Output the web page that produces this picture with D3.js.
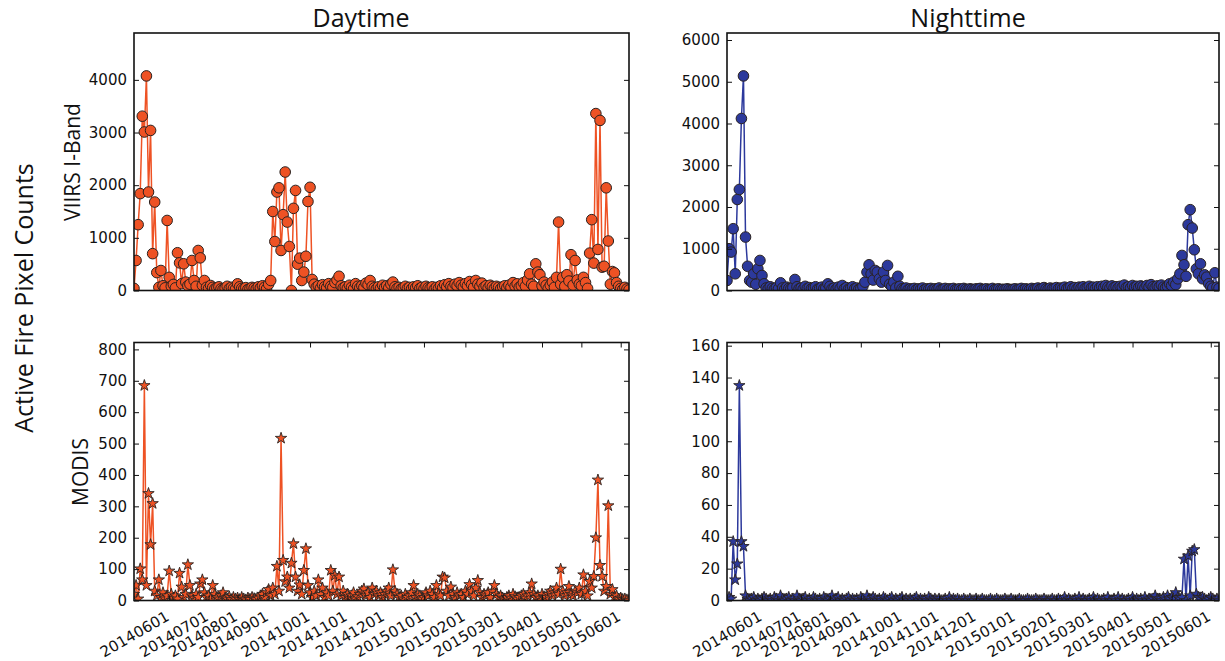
<!DOCTYPE html>
<html>
<head>
<meta charset="utf-8">
<script src="https://d3js.org/d3.v7.min.js"></script>
<style>
  body { margin: 0; background: #fff; }
  .tick text { font-family: "DejaVu Sans", sans-serif; font-size: 15px; fill: #111; }
  .lbl { font-family: "Open Sans", sans-serif; fill: #111; }
</style>
</head>
<body>
<div id="chart"></div>
<script>

// x axis is the sample index (one point per observation day)
const N = 240;
const tickIdx = [17, 36, 50, 65, 85, 103, 121, 140, 160, 178, 197, 216, 235];
const tickLabels = ["20140601", "20140701", "20140801", "20140901", "20141001", "20141101",
  "20141201", "20150101", "20150201", "20150301", "20150401", "20150501", "20150601"];

// VIIRS I-Band, daytime
const viirsDay = [
  40, 570, 1250, 1840, 3310, 3010, 4075, 1870, 3040, 700,
  1680, 340, 60, 380, 90, 50, 1330, 250, 80, 115,
  50, 717, 525, 130, 507, 160, 90, 120, 570, 190,
  80, 760, 620, 100, 190, 60, 40, 95, 60, 30,
  50, 70, 30, 20, 45, 80, 35, 60, 40, 25,
  127, 70, 40, 30, 55, 20, 35, 60, 45, 30,
  70, 50, 90, 60, 30, 120, 190, 1500, 930, 1870,
  1950, 760, 1440, 2250, 1300, 836, 0, 1560, 1900, 500,
  615, 190, 350, 650, 1690, 1960, 210, 120, 60, 90,
  40, 110, 70, 50, 130, 80, 60, 150, 200, 270,
  90, 50, 70, 40, 100, 60, 30, 130, 80, 50,
  90, 60, 140, 110, 190, 80, 50, 30, 70, 40,
  100, 60, 90, 50, 120, 160, 70, 40, 60, 30,
  50, 80, 40, 60, 30, 70, 50, 90, 40, 60,
  30, 80, 50, 40, 70, 20, 60, 40, 90, 50,
  110, 70, 130, 80, 60, 120, 90, 150, 100, 70,
  130, 90, 170, 110, 60, 190, 120, 80, 140, 60,
  90, 50, 100, 70, 40, 80, 60, 30, 70, 90,
  50, 100, 60, 150, 80, 127, 60, 90, 150, 80,
  200, 317, 120, 80, 507, 350, 300, 90, 160, 100,
  40, 100, 160, 60, 250, 1300, 120, 250, 80, 300,
  180, 680, 100, 570, 200, 120, 90, 250, 150, 40,
  710, 1345, 520, 3360, 780, 3230, 443, 460, 1950, 940,
  120, 360, 335, 150, 80, 40, 20, 60, 30, 10
];

// VIIRS I-Band, nighttime
const viirsNight = [
  240, 1000, 920, 1480, 400, 2180, 2420, 4120, 5140, 1280,
  580, 240, 200, 400, 150, 520, 720, 360, 160, 60,
  40, 90, 50, 30, 70, 40, 185, 60, 30, 80,
  50, 40, 70, 264, 90, 40, 60, 30, 100, 50,
  70, 40, 60, 90, 30, 50, 80, 40, 60, 160,
  100, 40, 60, 30, 80, 50, 120, 40, 70, 30,
  50, 90, 40, 60, 30, 50, 100, 200, 440, 616,
  400, 250, 480, 440, 280, 200, 440, 240, 600, 150,
  100, 200, 60, 340, 100, 40, 30, 60, 20, 40,
  30, 50, 20, 40, 30, 60, 20, 40, 30, 50,
  20, 40, 30, 60, 20, 30, 50, 20, 40, 30,
  50, 20, 30, 40, 20, 50, 30, 20, 40, 30,
  20, 40, 30, 50, 20, 30, 40, 20, 30, 50,
  20, 30, 40, 20, 30, 20, 40, 30, 20, 30,
  40, 20, 30, 50, 20, 40, 30, 20, 50, 30,
  40, 60, 30, 50, 70, 40, 30, 60, 40, 50,
  70, 40, 60, 50, 80, 40, 60, 90, 50, 70,
  40, 80, 60, 90, 50, 70, 100, 60, 80, 50,
  90, 60, 100, 70, 120, 80, 60, 110, 70, 90,
  60, 100, 80, 130, 70, 90, 60, 120, 80, 100,
  70, 110, 90, 60, 120, 80, 140, 90, 70, 110,
  90, 130, 80, 60, 100, 160, 120, 200, 140, 280,
  400, 840, 616, 340, 1576, 1936, 1496, 976, 520, 400,
  640, 280, 376, 320, 160, 100, 60, 424, 80, 50
];

// MODIS, daytime
const modisDay = [
  20, 48, 5, 101, 66, 685, 48, 341, 178, 309,
  30, 15, 66, 10, 25, 5, 15, 94, 20, 8,
  15, 5, 87, 43, 10, 20, 114, 48, 15, 8,
  20, 10, 53, 66, 25, 10, 15, 5, 48, 20,
  10, 5, 15, 25, 8, 5, 12, 3, 10, 5,
  8, 3, 10, 5, 2, 8, 4, 10, 6, 3,
  8, 15, 20, 10, 25, 35, 15, 40, 20, 109,
  30, 517, 128, 60, 75, 40, 119, 181, 75, 30,
  50, 20, 96, 165, 48, 25, 10, 30, 15, 66,
  20, 40, 10, 25, 15, 96, 30, 80, 20, 75,
  15, 30, 10, 20, 8, 15, 25, 5, 12, 20,
  30, 37, 15, 25, 10, 40, 20, 30, 15, 25,
  10, 20, 30, 40, 15, 98, 30, 20, 10, 15,
  5, 20, 10, 15, 25, 48, 10, 20, 15, 5,
  10, 25, 15, 30, 20, 10, 48, 20, 15, 75,
  72, 30, 15, 43, 20, 10, 25, 15, 20, 10,
  30, 20, 51, 30, 15, 40, 64, 25, 10, 20,
  15, 25, 10, 30, 48, 20, 10, 15, 8, 5,
  10, 15, 8, 20, 12, 5, 10, 15, 20, 8,
  15, 25, 53, 20, 10, 15, 8, 20, 12, 10,
  20, 30, 15, 25, 40, 20, 100, 30, 15, 25,
  45, 20, 15, 30, 25, 40, 20, 82, 30, 15,
  61, 40, 77, 200, 384, 112, 77, 30, 45, 302,
  20, 35, 10, 15, 5, 8, 3, 5, 2, 0
];

// MODIS, nighttime
const modisNight = [
  0, 2, 1, 37, 13, 23, 135, 37, 34, 3,
  1, 0, 1, 2, 0, 1, 0, 1, 2, 1,
  0, 1, 0, 2, 1, 0, 3, 1, 0, 1,
  2, 0, 1, 0, 3, 1, 0, 1, 2, 0,
  1, 0, 2, 1, 0, 1, 0, 2, 1, 0,
  1, 3, 0, 1, 2, 0, 1, 0, 1, 2,
  0, 1, 0, 1, 0, 2, 1, 0, 3, 1,
  0, 2, 1, 0, 1, 0, 2, 1, 0, 1,
  2, 0, 1, 0, 1, 2, 0, 1, 0, 1,
  0, 1, 2, 0, 1, 0, 1, 0, 2, 1,
  0, 1, 0, 1, 0, 0, 1, 0, 2, 0,
  1, 0, 1, 0, 0, 1, 0, 0, 1, 0,
  0, 1, 0, 0, 1, 0, 0, 0, 1, 0,
  0, 1, 0, 0, 0, 1, 0, 0, 1, 0,
  0, 0, 1, 0, 0, 0, 1, 0, 0, 0,
  1, 0, 0, 0, 1, 0, 0, 0, 1, 0,
  0, 1, 0, 0, 2, 0, 1, 0, 0, 1,
  0, 2, 0, 1, 0, 0, 1, 0, 2, 0,
  1, 0, 0, 1, 0, 2, 0, 0, 1, 0,
  2, 0, 1, 0, 0, 1, 0, 2, 0, 1,
  0, 1, 0, 2, 0, 1, 0, 1, 3, 1,
  1, 0, 2, 1, 3, 1, 2, 1, 5, 2,
  1, 2, 26, 0, 28, 3, 31, 32, 4, 2,
  1, 2, 1, 0, 1, 2, 1, 0, 1, 0
];

const dayColor = "#ee5224", nightColor = "#2c399c";

const panels = [
  {values: viirsDay,   x0: 134, x1: 629,  y0: 33,  y1: 290.5, step: 1000, top: 4000, color: dayColor,   marker: "circle", xlabels: false},
  {values: viirsNight, x0: 727, x1: 1219, y0: 33,  y1: 290.5, step: 1000, top: 6000, color: nightColor, marker: "circle", xlabels: false},
  {values: modisDay,   x0: 134, x1: 629,  y0: 342.5, y1: 600.5, step: 100, top: 800, color: dayColor,   marker: "star", xlabels: true},
  {values: modisNight, x0: 727, x1: 1219, y0: 342.5, y1: 600.5, step: 20,  top: 160, color: nightColor, marker: "star", xlabels: true}
];

const svg = d3.select("#chart").append("svg")
  .attr("width", 1225).attr("height", 661);

const star = d3.symbol().type(d3.symbolStar).size(40);

panels.forEach((p, k) => {
  const x = d3.scaleLinear().domain([0, N - 1]).range([p.x0, p.x1]);
  const y = d3.scaleLinear().domain([0, d3.max(p.values) * 1.2]).range([p.y1, p.y0]);
  const yTicks = d3.range(0, p.top + 1, p.step);

  svg.append("clipPath").attr("id", "clip" + k)
    .append("rect")
      .attr("x", p.x0).attr("y", p.y0)
      .attr("width", p.x1 - p.x0).attr("height", p.y1 - p.y0);

  const g = svg.append("g").attr("clip-path", `url(#clip${k})`);

  g.append("path")
    .datum(p.values)
    .attr("fill", "none")
    .attr("stroke", p.color)
    .attr("stroke-width", 1.5)
    .attr("d", d3.line().x((d, i) => x(i)).y(d => y(d)));

  if (p.marker == "circle") {
    g.selectAll("circle")
      .data(p.values)
      .join("circle")
        .attr("cx", (d, i) => x(i))
        .attr("cy", d => y(d))
        .attr("r", 5.3)
        .attr("fill", p.color)
        .attr("stroke", "#2a2220")
        .attr("stroke-width", 1);
  } else {
    g.selectAll("path.star")
      .data(p.values)
      .join("path")
        .attr("class", "star")
        .attr("d", star)
        .attr("transform", (d, i) => `translate(${x(i)},${y(d)})`)
        .attr("fill", p.color)
        .attr("stroke", "#2a2220")
        .attr("stroke-width", 0.9);
  }

  // y axes, ticks pointing inward on both sides
  svg.append("g")
    .attr("transform", `translate(${p.x0},0)`)
    .call(d3.axisLeft(y).tickValues(yTicks).tickSize(-5).tickPadding(7).tickFormat(d3.format("d")))
    .call(a => a.select(".domain").remove());
  svg.append("g")
    .attr("transform", `translate(${p.x1},0)`)
    .call(d3.axisRight(y).tickValues(yTicks).tickSize(-5).tickFormat(""))
    .call(a => a.select(".domain").remove());

  if (p.xlabels) {
    svg.append("g")
      .attr("transform", `translate(0,${p.y0})`)
      .call(d3.axisTop(x).tickValues(tickIdx).tickSize(-5).tickFormat(""))
      .call(a => a.select(".domain").remove());
    svg.append("g")
      .attr("transform", `translate(0,${p.y1})`)
      .call(d3.axisBottom(x).tickValues(tickIdx).tickSize(-5).tickFormat(""))
      .call(a => a.select(".domain").remove());
    svg.append("g").selectAll("text")
      .data(tickIdx)
      .join("text")
        .attr("transform", d => `translate(${x(d) + 1},${p.y1 + 19}) rotate(-30)`)
        .attr("text-anchor", "end")
        .style("font-family", "DejaVu Sans, sans-serif")
        .style("font-size", "15px")
        .style("fill", "#111")
        .text((d, i) => tickLabels[i]);
  }

  svg.append("rect")
    .attr("x", p.x0).attr("y", p.y0)
    .attr("width", p.x1 - p.x0).attr("height", p.y1 - p.y0)
    .attr("fill", "none")
    .attr("stroke", "#111")
    .attr("stroke-width", 1.6);
});

svg.selectAll(".tick line").attr("stroke", "#111").attr("stroke-width", 1);

// titles and axis labels
svg.append("text").attr("class", "lbl")
  .attr("x", 361).attr("y", 27).attr("text-anchor", "middle")
  .style("font-size", "25px").text("Daytime");
svg.append("text").attr("class", "lbl")
  .attr("x", 968).attr("y", 27).attr("text-anchor", "middle")
  .style("font-size", "25px").text("Nighttime");
svg.append("text").attr("class", "lbl")
  .attr("transform", "translate(80,162) rotate(-90)").attr("text-anchor", "middle")
  .style("font-size", "21px").text("VIIRS I-Band");
svg.append("text").attr("class", "lbl")
  .attr("transform", "translate(88,472) rotate(-90)").attr("text-anchor", "middle")
  .style("font-size", "21px").text("MODIS");
svg.append("text").attr("class", "lbl")
  .attr("transform", "translate(33,298) rotate(-90)").attr("text-anchor", "middle")
  .style("font-size", "25px").text("Active Fire Pixel Counts");

</script>
</body>
</html>
